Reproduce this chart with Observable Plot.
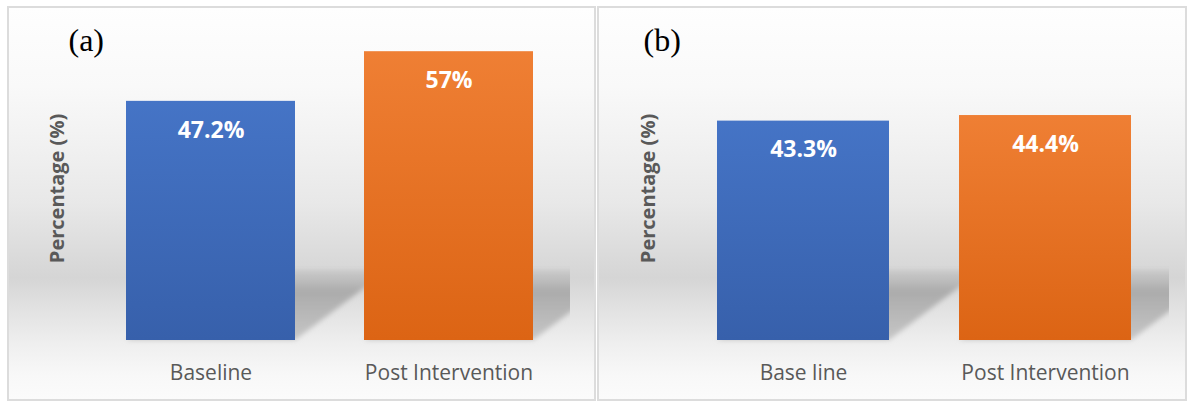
<!DOCTYPE html>
<html><head><meta charset="utf-8">
<script src="https://cdn.jsdelivr.net/npm/d3@7"></script>
<script src="https://cdn.jsdelivr.net/npm/@observablehq/plot@0.6"></script>
<style>
body{margin:0;background:#fff;width:1189px;height:402px;position:relative;overflow:hidden;font-family:"Open Sans",sans-serif}
.panel{position:absolute;top:6px;height:395px;box-sizing:border-box;border:2px solid #dcdcdc;
background:linear-gradient(to bottom,#fefefe 0%,#f9f9f9 20%,#f1f1f1 35%,#e8e8e8 50%,#dcdcdc 62%,#d5d5d5 69%,#e2e2e2 77%,#efefef 86%,#f8f8f8 94%,#fbfbfb 100%)}
.panel svg{display:block;background:transparent}
</style></head><body>
<svg width="0" height="0" style="position:absolute">
<defs>
<linearGradient id="gBlue" x1="0" y1="0" x2="0" y2="1"><stop offset="0" stop-color="#4574c6"/><stop offset="1" stop-color="#3760ab"/></linearGradient>
<linearGradient id="gOrange" x1="0" y1="0" x2="0" y2="1"><stop offset="0" stop-color="#ef7f34"/><stop offset="1" stop-color="#dc6414"/></linearGradient>
<linearGradient id="gShadow" x1="0" y1="0" x2="0" y2="1"><stop offset="0" stop-color="#bdbdbd" stop-opacity="0.5"/><stop offset="0.3" stop-color="#ababab"/><stop offset="1" stop-color="#c6c6c6"/></linearGradient>
<filter id="fBlur" x="-20%" y="-20%" width="140%" height="140%"><feGaussianBlur stdDeviation="2.5"/></filter>
</defs></svg>
<div id="pa" class="panel" style="left:7px;width:589px"></div>
<div id="pb" class="panel" style="left:597px;width:590px"></div>
<script>
const catsA = ["Baseline", "Post Intervention"];
const valuesA = [47.2, 57];
const labelsA = ["47.2%", "57%"];
const catsB = ["Base line", "Post Intervention"];
const valuesB = [43.3, 44.4];
const labelsB = ["43.3%", "44.4%"];
const tags = ["(a)", "(b)"];
const yTitle = "Percentage (%)";
const fills = ["url(#gBlue)", "url(#gOrange)"];

function panel(el, cats, values, labels, tag, L, id) {
  const data = cats.map((c, i) => ({cat: c, value: values[i], label: labels[i], idx: i}));
  const plot = Plot.plot({
    width: L.width, height: L.height,
    marginLeft: L.ml, marginRight: L.mr, marginTop: L.mt, marginBottom: L.mb,
    style: {background: "transparent", fontFamily: "Open Sans", fontSize: "21px", color: "#595959"},
    x: {domain: cats, paddingInner: L.pi, paddingOuter: L.po, label: null, tickSize: 0, tickPadding: 25},
    y: {domain: [0, 60], axis: null},
    marks: [
      ...data.map(d => Plot.barY([d], {x: "cat", y: "value", fill: fills[d.idx]})),
      Plot.text(data, {x: "cat", y: "value", text: "label", dy: 29, fill: "white", fontWeight: "bold", fontSize: 23, fontFamily: "Open Sans"}),
      Plot.text([yTitle], {frameAnchor: "left", text: d => d, rotate: -90, dx: L.ydx, fill: "#595959", fontWeight: "bold", fontSize: 20, fontFamily: "Open Sans", textAnchor: "middle", lineAnchor: "middle"}),
      Plot.text([tag], {frameAnchor: "top-left", text: d => d, dx: L.tdx, dy: L.tdy, fill: "black", fontSize: 32, fontFamily: "Liberation Serif", textAnchor: "start", lineAnchor: "middle"})
    ]
  });
  // shadows derived from the plot's own scales
  const x = plot.scale("x"), y = plot.scale("y");
  const ns = "http://www.w3.org/2000/svg";
  const y0 = y.apply(0);
  const defs = document.createElementNS(ns, "defs");
  const cp = document.createElementNS(ns, "clipPath");
  cp.setAttribute("id", "clip" + id);
  const r = document.createElementNS(ns, "rect");
  r.setAttribute("x", L.ml); r.setAttribute("y", 0);
  r.setAttribute("width", L.width - L.ml - L.mr); r.setAttribute("height", L.height);
  cp.appendChild(r); defs.appendChild(cp);
  const g = document.createElementNS(ns, "g");
  g.setAttribute("clip-path", `url(#clip${id})`);
  const inner = document.createElementNS(ns, "g");
  inner.setAttribute("filter", "url(#fBlur)");
  g.appendChild(inner);
  const sdx = 93, sdy = 70;
  data.forEach(d => {
    const xa = x.apply(d.cat), w = x.bandwidth;
    const p = document.createElementNS(ns, "polygon");
    p.setAttribute("points", `${xa},${y0} ${xa + w},${y0} ${xa + w + sdx},${y0 - sdy} ${xa + sdx},${y0 - sdy}`);
    p.setAttribute("fill", "url(#gShadow)");
    inner.appendChild(p);
  });
  const first = plot.querySelector("g");
  plot.insertBefore(defs, first);
  plot.insertBefore(g, first);
  el.appendChild(plot);
}

panel(document.getElementById("pa"), catsA, valuesA, labelsA, tags[0],
  {width: 585, height: 391, ml: 79, mr: 24, mt: 28, mb: 59, pi: 0.29, po: 0.155, ydx: -31, tdx: -20, tdy: 4}, "a");
panel(document.getElementById("pb"), catsB, valuesB, labelsB, tags[1],
  {width: 586, height: 391, ml: 80, mr: 16, mt: 28, mb: 59, pi: 0.291, po: 0.157, ydx: -31, tdx: -36, tdy: 4}, "b");
</script>
</body></html>
